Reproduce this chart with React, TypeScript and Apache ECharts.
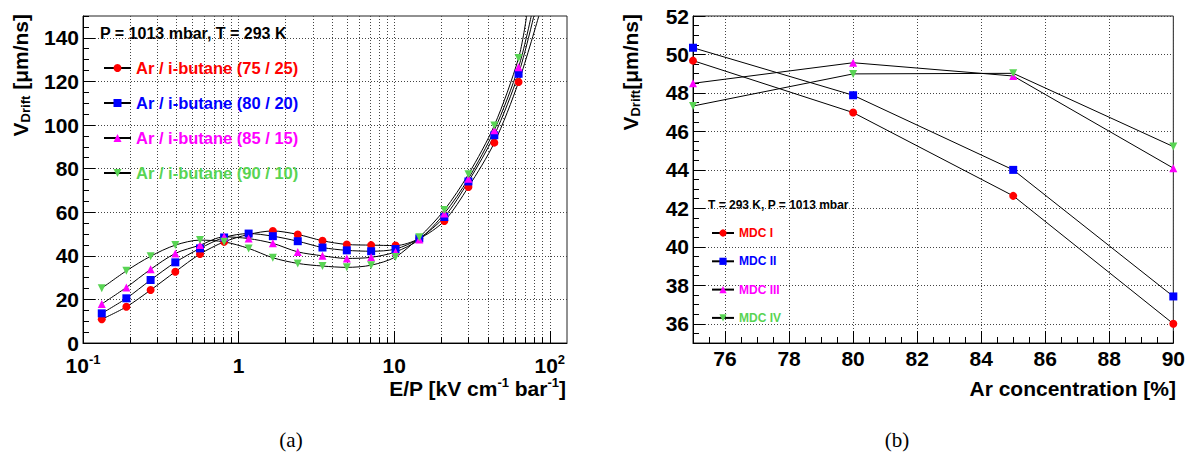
import React, { useEffect, useRef } from 'react';
import * as echarts from 'echarts';

// ---------- Panel (a): drift velocity vs reduced field ----------
const epValues = [0.132, 0.19, 0.272, 0.392, 0.565, 0.807, 1.16, 1.66, 2.4, 3.46, 4.96, 7.11, 10.2, 14.5, 21, 30, 44, 63];
const vArIso7525 = [10.9, 16.6, 24.3, 32.7, 40.8, 46.4, 49.8, 51.4, 49.8, 46.9, 45.2, 44.9, 44.7, 47.9, 56.0, 71.6, 91.9, 119.7];
const vArIso8020 = [13.6, 20.5, 28.9, 37.0, 43.4, 48.4, 50.2, 49.0, 46.7, 43.8, 42.5, 42.1, 43.1, 48.0, 57.8, 74.1, 95.3, 123.5];
const vArIso8515 = [17.9, 25.5, 33.8, 41.1, 44.9, 48.7, 47.9, 45.7, 41.8, 40.0, 38.8, 39.3, 41.8, 47.5, 59.4, 75.4, 97.6, 126.5];
const vArIso9010 = [25.1, 33.1, 39.8, 44.9, 47.2, 46.4, 43.4, 39.1, 36.5, 35.3, 34.7, 35.7, 39.5, 48.5, 61.0, 77.4, 99.8, 130.7];
// where each fitted curve leaves the top of the frame
const curveExitEP = [85, 79, 76, 71];
const curveExitV = [150, 150, 150, 150];
const gasNames = ['Ar / i-butane (75 / 25)', 'Ar / i-butane (80 / 20)', 'Ar / i-butane (85 / 15)', 'Ar / i-butane (90 / 10)'];

const leftXMajorTicks = [0.1, 1, 10, 100];
const leftXMinorTicks = [0.2, 0.3, 0.4, 0.5, 0.6, 0.7, 0.8, 0.9, 2, 3, 4, 5, 6, 7, 8, 9, 20, 30, 40, 50, 60, 70, 80, 90];
const leftYTicks = [0, 20, 40, 60, 80, 100, 120, 140];

// ---------- Panel (b): drift velocity vs Ar concentration ----------
const arConcentration = [75, 80, 85, 90];
const vMdc1 = [49.68, 46.98, 42.65, 36.0];
const vMdc2 = [50.35, 47.88, 44.0, 37.42];
const vMdc3 = [48.5, 49.57, 48.88, 44.09];
const vMdc4 = [47.32, 48.99, 49.02, 45.21];
const mdcNames = ['MDC I', 'MDC II', 'MDC III', 'MDC IV'];

const rightXTicks = [76, 78, 80, 82, 84, 86, 88, 90];
const rightYTicks = [36, 38, 40, 42, 44, 46, 48, 50, 52];

const COLORS = ['#ff0000', '#0000ff', '#ff00ff', '#59d454'];
const SYMBOLS = ['circle', 'rect', 'triangle', 'triangle'];
const ROTATES = [0, 0, 0, 180];

const FONT = '"Liberation Sans", Arial, Helvetica, sans-serif';
const SERIF = '"Liberation Serif", "Times New Roman", serif';

const gridLine = { show: true, lineStyle: { color: '#444', type: [1, 2] as any, width: 1 } };
const labelBase = { color: '#000', fontFamily: FONT, fontWeight: 'bold' as const, fontSize: 21 };

export default function App() {
  const ref = useRef<HTMLDivElement>(null);

  useEffect(() => {
    if (!ref.current) return;
    const chart = echarts.init(ref.current, null, { renderer: 'svg' });

    const leftSets = [vArIso7525, vArIso8020, vArIso8515, vArIso9010];
    const rightSets = [vMdc1, vMdc2, vMdc3, vMdc4];

    const leftSeries = leftSets.map((vals, i) => ({
      type: 'line',
      name: gasNames[i],
      xAxisIndex: 0,
      yAxisIndex: 0,
      data: [
        ...epValues.map((x, j) => [x, vals[j]]),
        { value: [curveExitEP[i], curveExitV[i]], symbol: 'none' },
      ],
      smooth: 0.3,
      symbol: SYMBOLS[i],
      symbolSize: 8,
      symbolRotate: ROTATES[i],
      itemStyle: { color: COLORS[i] },
      lineStyle: { color: '#000', width: 1 },
      emphasis: { disabled: true },
      z: 3,
    }));

    const rightSeries = rightSets.map((vals, i) => ({
      type: 'line',
      name: mdcNames[i],
      xAxisIndex: 2,
      yAxisIndex: 2,
      data: arConcentration.map((x, j) => [x, vals[j]]),
      symbol: SYMBOLS[i],
      symbolSize: 8,
      symbolRotate: ROTATES[i],
      itemStyle: { color: COLORS[i] },
      lineStyle: { color: '#000', width: 1 },
      emphasis: { disabled: true },
      clip: false,
      z: 3,
    }));

    const supLabel = (v: number) => {
      const e = Math.round(Math.log10(v));
      if (e === 0) return '1';
      if (e === 1) return '10';
      return `10{sup|${e}}`;
    };

    const option: any = {
      animation: false,
      backgroundColor: '#fff',
      grid: [
        { left: 83, top: 16, width: 484, height: 327, show: true, borderColor: '#222', borderWidth: 1, backgroundColor: 'transparent' },
        { left: 693, top: 16, width: 483, height: 327, show: true, borderColor: '#222', borderWidth: 1, backgroundColor: 'transparent' },
      ],
      xAxis: [
        {
          type: 'log', logBase: 10, gridIndex: 0, min: 0.1, max: 129, position: 'bottom',
          axisLine: { show: true, lineStyle: { color: '#000' } },
          axisTick: { show: true, inside: true, length: 12, customValues: leftXMajorTicks, lineStyle: { color: '#000' } },
          axisLabel: {
            ...labelBase, margin: 10, lineHeight: 24, customValues: leftXMajorTicks, formatter: supLabel,
            rich: { sup: { fontFamily: FONT, fontWeight: 'bold', fontSize: 13, lineHeight: 14, verticalAlign: 'top', color: '#000' } },
          },
          splitLine: gridLine,
        },
        {
          type: 'log', logBase: 10, gridIndex: 0, min: 0.1, max: 129, position: 'bottom',
          axisLine: { show: false },
          axisTick: { show: true, inside: true, length: 6, customValues: leftXMinorTicks, lineStyle: { color: '#000' } },
          axisLabel: { show: false, customValues: leftXMinorTicks },
          splitLine: gridLine,
        },
        {
          type: 'value', gridIndex: 1, min: 75, max: 90, position: 'bottom',
          axisLine: { show: true, lineStyle: { color: '#000' } },
          axisTick: { show: true, inside: true, length: 12, customValues: rightXTicks, lineStyle: { color: '#000' } },
          axisLabel: { ...labelBase, margin: 3, lineHeight: 24, customValues: rightXTicks },
          splitLine: gridLine,
        },
        {
          type: 'value', gridIndex: 1, min: 75, max: 90, interval: 0.5, position: 'bottom',
          axisLine: { show: false },
          axisTick: { show: true, inside: true, length: 6, lineStyle: { color: '#000' } },
          axisLabel: { show: false },
          splitLine: { show: false },
        },
      ],
      yAxis: [
        {
          type: 'value', gridIndex: 0, min: 0, max: 150, position: 'left',
          axisLine: { show: true, lineStyle: { color: '#000' } },
          axisTick: { show: true, inside: true, length: 12, customValues: leftYTicks, lineStyle: { color: '#000' } },
          axisLabel: { ...labelBase, margin: 4, customValues: leftYTicks },
          splitLine: gridLine,
        },
        {
          type: 'value', gridIndex: 0, min: 0, max: 150, interval: 5, position: 'left',
          axisLine: { show: false },
          axisTick: { show: true, inside: true, length: 6, lineStyle: { color: '#000' } },
          axisLabel: { show: false },
          splitLine: { show: false },
        },
        {
          type: 'value', gridIndex: 1, min: 35, max: 52, position: 'left',
          axisLine: { show: true, lineStyle: { color: '#000' } },
          axisTick: { show: true, inside: true, length: 12, customValues: rightYTicks, lineStyle: { color: '#000' } },
          axisLabel: { ...labelBase, margin: 4, customValues: rightYTicks },
          splitLine: gridLine,
        },
        {
          type: 'value', gridIndex: 1, min: 35, max: 52, interval: 0.5, position: 'left',
          axisLine: { show: false },
          axisTick: { show: true, inside: true, length: 6, lineStyle: { color: '#000' } },
          axisLabel: { show: false },
          splitLine: { show: false },
        },
      ],
      legend: [
        {
          data: gasNames.map((n, i) => ({ name: n, textStyle: { color: COLORS[i] } })),
          orient: 'vertical', left: 103, top: 58, itemWidth: 27, itemHeight: 10, itemGap: 15, padding: 0,
          selectedMode: false,
          textStyle: { fontFamily: FONT, fontWeight: 'bold', fontSize: 16.5, lineHeight: 20 },
        },
        {
          data: mdcNames.map((n, i) => ({ name: n, textStyle: { color: COLORS[i] } })),
          orient: 'vertical', left: 711, top: 225, itemWidth: 22, itemHeight: 9, itemGap: 12.3, padding: 0,
          selectedMode: false,
          textStyle: { fontFamily: FONT, fontWeight: 'bold', fontSize: 12, lineHeight: 16 },
        },
      ],
      graphic: [
        {
          type: 'text', x: 20, y: 14, rotation: Math.PI / 2, silent: true,
          style: {
            text: '{m|V}{s|Drift}{m| [μm/ns]}', textAlign: 'right', textVerticalAlign: 'middle', fill: '#000',
            rich: {
              m: { fontFamily: FONT, fontWeight: 'bold', fontSize: 21, lineHeight: 24, verticalAlign: 'middle' },
              s: { fontFamily: FONT, fontWeight: 'bold', fontSize: 13, lineHeight: 14, verticalAlign: 'bottom' },
            },
          },
        },
        {
          type: 'text', x: 566, y: 388, silent: true,
          style: {
            text: '{m|E/P [kV cm}{s|-1}{m| bar}{s|-1}{m|]}', textAlign: 'right', textVerticalAlign: 'middle', fill: '#000',
            rich: {
              m: { fontFamily: FONT, fontWeight: 'bold', fontSize: 21, lineHeight: 24, verticalAlign: 'middle' },
              s: { fontFamily: FONT, fontWeight: 'bold', fontSize: 13, lineHeight: 14, verticalAlign: 'top' },
            },
          },
        },
        {
          type: 'text', x: 100, y: 33, silent: true,
          style: { text: 'P = 1013 mbar, T = 293 K', textAlign: 'left', textVerticalAlign: 'middle', fill: '#000', fontFamily: FONT, fontWeight: 'bold', fontSize: 16 },
        },
        {
          type: 'text', x: 630, y: 14, rotation: Math.PI / 2, silent: true,
          style: {
            text: '{m|V}{s|Drift}{m|[μm/ns]}', textAlign: 'right', textVerticalAlign: 'middle', fill: '#000',
            rich: {
              m: { fontFamily: FONT, fontWeight: 'bold', fontSize: 21, lineHeight: 24, verticalAlign: 'middle' },
              s: { fontFamily: FONT, fontWeight: 'bold', fontSize: 13, lineHeight: 14, verticalAlign: 'bottom' },
            },
          },
        },
        {
          type: 'text', x: 1176, y: 388, silent: true,
          style: { text: 'Ar concentration [%]', textAlign: 'right', textVerticalAlign: 'middle', fill: '#000', fontFamily: FONT, fontWeight: 'bold', fontSize: 21 },
        },
        {
          type: 'text', x: 708, y: 205, silent: true,
          style: { text: 'T = 293 K, P = 1013 mbar', textAlign: 'left', textVerticalAlign: 'middle', fill: '#000', fontFamily: FONT, fontWeight: 'bold', fontSize: 12 },
        },
        {
          type: 'text', x: 291, y: 440, silent: true,
          style: { text: '(a)', textAlign: 'center', textVerticalAlign: 'middle', fill: '#000', fontFamily: SERIF, fontSize: 21 },
        },
        {
          type: 'text', x: 897, y: 440, silent: true,
          style: { text: '(b)', textAlign: 'center', textVerticalAlign: 'middle', fill: '#000', fontFamily: SERIF, fontSize: 21 },
        },
      ],
      series: [...leftSeries, ...rightSeries],
    };

    chart.setOption(option);
    return () => chart.dispose();
  }, []);

  return <div ref={ref} style={{ position: 'fixed', left: 0, top: 0, width: 1188, height: 455 }} />;
}
